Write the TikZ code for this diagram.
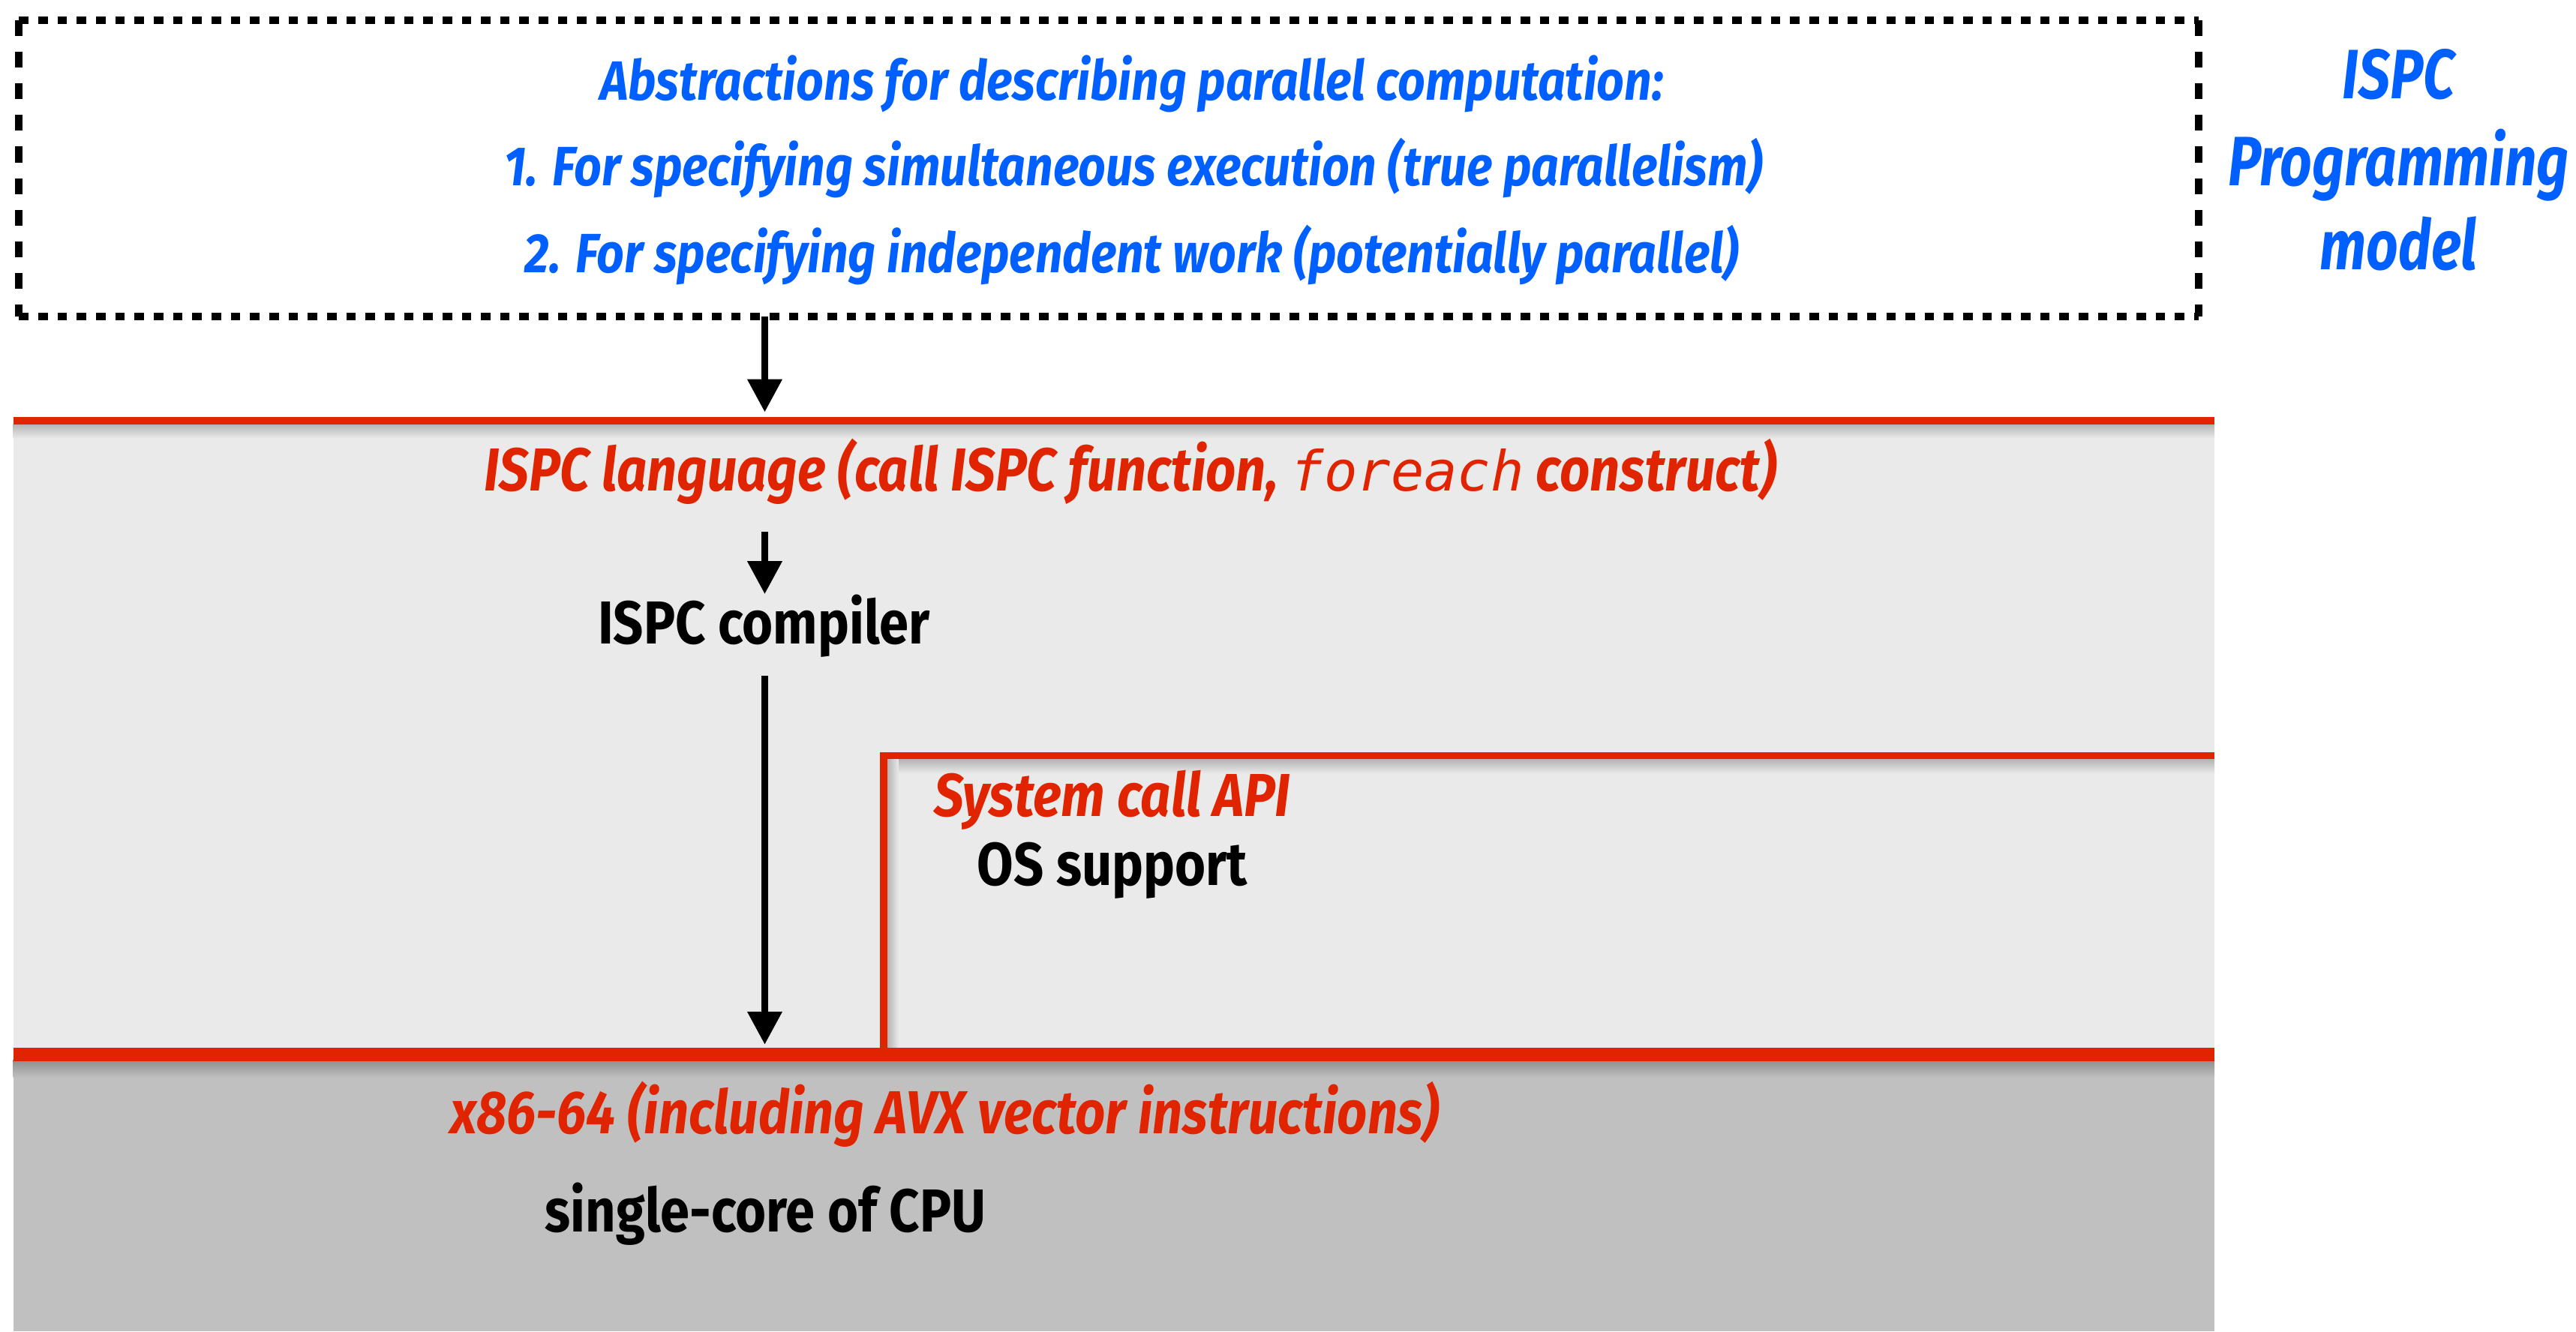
\documentclass[tikz,border=0pt]{standalone}
\usepackage{fontspec}
\setmainfont{Fira Sans}[FakeStretch=0.87]
\newfontfamily\narrowfont{Fira Sans}[FakeStretch=0.8]
\setmonofont{DejaVu Sans Mono}
\usetikzlibrary{arrows.meta,positioning}

\definecolor{ispcblue}{RGB}{0,96,255}
\definecolor{ispcred}{RGB}{225,36,0}
\definecolor{layerlight}{RGB}{234,234,234}
\definecolor{layerdark}{RGB}{192,192,192}

\tikzset{
  bluetext/.style={font=\bfseries\itshape\fontsize{21}{25}\selectfont, text=ispcblue, anchor=base, inner sep=0pt},
  titletext/.style={font=\narrowfont\bfseries\itshape\fontsize{26.5}{30}\selectfont, text=ispcblue, anchor=base, inner sep=0pt},
  redtext/.style={font=\bfseries\itshape\fontsize{23}{27}\selectfont, text=ispcred, anchor=base, inner sep=0pt},
  blacktext/.style={font=\bfseries\fontsize{23}{27}\selectfont, text=black, anchor=base, inner sep=0pt},
  redline/.style={draw=ispcred, line width=2.8pt},
  arr/.style={line width=2.8pt, -{Triangle[length=0.44cm,width=0.44cm]}},
}

\begin{document}
\begin{tikzpicture}[x=0.0219cm, y=-0.0219cm]
\useasboundingbox (0,0) rectangle (1568,810.5);

% layers
\fill[layerlight] (8,256) rectangle (1348,642);
\fill[layerdark] (8,642) rectangle (1348,810.5);
\shade[top color=black!30, bottom color=layerlight] (8,258) rectangle (1348,267);
\shade[top color=black!30, bottom color=layerlight] (540,462) rectangle (1348,471);
\shade[left color=black!30, right color=layerlight] (540,462) rectangle (547,640);
\shade[top color=black!45, bottom color=layerdark] (8,645) rectangle (1348,656);

% red borders
\draw[redline] (8,256) -- (1348,256);
\draw[redline] (538,642) -- (538,460) -- (1348,460);
\draw[draw=ispcred, line width=5pt] (8,642) -- (1348,642);

% programming model box
\node[minimum width=29.04cm, minimum height=3.94cm, inner sep=0pt] (absbox) at (675,102.5) {};
\draw[line width=2.9pt, dash pattern=on 3.6pt off 3.7pt] (absbox.north west) -- (absbox.north east);
\draw[line width=2.9pt, dash pattern=on 3.6pt off 3.7pt] (absbox.south west) -- (absbox.south east);
\draw[line width=2.9pt, dash pattern=on 6pt off 6pt] (absbox.north west) -- (absbox.south west);
\draw[line width=2.9pt, dash pattern=on 6pt off 6pt] (absbox.north east) -- (absbox.south east);

\node[bluetext] (absa) at (689,61) {Abstractions for describing parallel computation:};
\node[bluetext] (absb) at (690,113) {1. For specifying simultaneous execution (true parallelism)};
\node[bluetext] (absc) at (689,166) {2. For specifying independent work (potentially parallel)};

\node[titletext] (modela) at (1460,60) {ISPC};
\node[titletext] (modelb) at (1460,113) {Programming};
\node[titletext] (modelc) at (1460,164) {model};

% layers text
\node[redtext] (lang) at (688,299) {ISPC language (call ISPC function, {\ttfamily\mdseries\itshape\fontsize{21}{25}\selectfont foreach} construct)};
\node[blacktext] (compiler) at (465,392) {ISPC compiler};
\node[redtext] (syscall) at (677,497) {System call API};
\node[blacktext] (os) at (677,539) {OS support};
\node[redtext] (isa) at (575,690) {x86-64 (including AVX vector instructions)};
\node[blacktext] (cpu) at (466,750) {single-core of CPU};

% arrows
\coordinate (langtop) at (465.5,251);
\coordinate (langbot) at (465.5,323.5);
\coordinate (isatop) at (465.5,636);
\draw[arr] (absbox.south -| langtop) -- (langtop);
\draw[arr] (langbot) -- (compiler.north -| langbot);
\draw[arr] ([yshift=-0.24cm]compiler.south -| langbot) -- (isatop);
\end{tikzpicture}
\end{document}
